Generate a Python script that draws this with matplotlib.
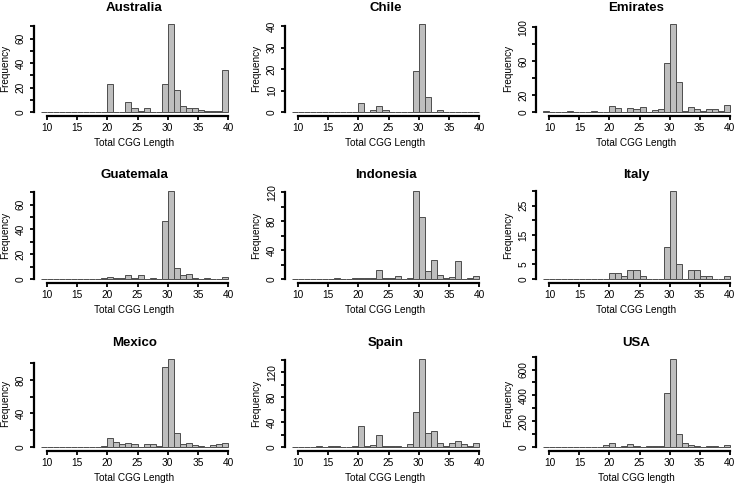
import matplotlib
matplotlib.use("Agg")
import matplotlib.pyplot as plt

plt.rcParams['font.family'] = ['Liberation Sans', 'DejaVu Sans']

# histogram breaks 9..40, one count per unit bin (left edges 9..39)
breaks = list(range(9, 41))

#            9  10 11 12 13 14 15 16 17 18 19  20 21 22 23 24 25 26 27 28  29   30  31 32 33 34 35 36 37 38 39
australia = [0, 0, 0, 0, 0, 0, 0, 0, 0, 0, 0, 23, 0, 0, 8, 3, 1, 3, 0, 0, 23, 72, 18, 5, 3, 3, 2, 1, 1, 1, 34]
chile     = [0, 0, 0, 0, 0, 0, 0, 0, 0, 0, 0, 4, 0, 1, 3, 1, 0, 0, 0, 0, 19, 41, 7, 0, 1, 0, 0, 0, 0, 0, 0]
emirates  = [1, 0, 0, 0, 1, 0, 0, 0, 1, 0, 0, 7, 5, 0, 5, 4, 6, 0, 2, 4, 58, 104, 35, 1, 6, 4, 1, 3, 4, 1, 8]
guatemala = [0, 0, 0, 0, 0, 0, 0, 0, 0, 0, 1, 2, 1, 1, 3, 1, 3, 0, 1, 0, 47, 71, 9, 3, 4, 1, 0, 1, 0, 0, 2]
indonesia = [0, 0, 0, 0, 0, 0, 0, 1, 0, 0, 2, 2, 1, 2, 12, 1, 1, 4, 0, 1, 122, 86, 11, 26, 5, 2, 3, 25, 0, 1, 4]
italy     = [0, 0, 0, 0, 0, 0, 0, 0, 0, 0, 0, 2, 2, 1, 3, 3, 1, 0, 0, 0, 11, 30, 5, 0, 3, 3, 1, 1, 0, 0, 1]
mexico    = [0, 0, 0, 0, 0, 0, 0, 0, 0, 0, 1, 11, 6, 3, 5, 4, 0, 3, 4, 1, 96, 105, 17, 3, 5, 2, 1, 0, 2, 3, 5]
spain     = [0, 0, 0, 0, 2, 0, 1, 1, 0, 0, 1, 34, 2, 3, 19, 2, 2, 1, 0, 4, 56, 141, 23, 25, 7, 1, 7, 10, 5, 2, 7]
usa       = [3, 0, 0, 0, 0, 0, 0, 2, 2, 3, 15, 27, 3, 8, 20, 7, 3, 5, 4, 10, 415, 682, 98, 27, 13, 4, 3, 8, 4, 3, 13]

panels = [
    ("Australia", australia, list(range(0, 71, 10)), [0, 20, 40, 60], "Total CGG Length"),
    ("Chile", chile, [0, 10, 20, 30, 40], [0, 10, 20, 30, 40], "Total CGG Length"),
    ("Emirates", emirates, list(range(0, 101, 20)), [0, 20, 60, 100], "Total CGG Length"),
    ("Guatemala", guatemala, list(range(0, 71, 10)), [0, 20, 40, 60], "Total CGG Length"),
    ("Indonesia", indonesia, list(range(0, 121, 20)), [0, 40, 80, 120], "Total CGG Length"),
    ("Italy", italy, list(range(0, 31, 5)), [0, 5, 15, 25], "Total CGG Length"),
    ("Mexico", mexico, list(range(0, 101, 20)), [0, 40, 80], "Total CGG Length"),
    ("Spain", spain, list(range(0, 141, 20)), [0, 40, 80, 120], "Total CGG Length"),
    ("USA", usa, list(range(0, 701, 100)), [0, 200, 400, 600], "Total CGG length"),
]
xticks = [10, 15, 20, 25, 30, 35, 40]

W, H = 737, 484
fig = plt.figure(figsize=(W / 100, H / 100), dpi=100)

col_left = [33.5, 284.5, 536]
col_w = [202, 202, 201]
row_bottom = [115.5, 282.5, 450.5]
row_h = 95

for i, (name, counts, yt, ylab, xlab) in enumerate(panels):
    r, c = divmod(i, 3)
    ax = fig.add_axes([col_left[c] / W, (H - row_bottom[r]) / H, col_w[c] / W, row_h / H])
    ax.bar(breaks[:-1], counts, width=1, align='edge', color='#bebebe',
           edgecolor='#4d4d4d', linewidth=0.7)
    m = max(counts)
    lo, hi = breaks[0], breaks[-1]
    span = hi - lo
    ax.set_xlim(lo - 0.04 * span, hi + 0.04 * span)
    ax.set_ylim(-0.04 * m, 1.04 * m)

    for s in ['top', 'right']:
        ax.spines[s].set_visible(False)
    ax.spines['left'].set_bounds(yt[0], yt[-1])
    ax.spines['bottom'].set_bounds(xticks[0], xticks[-1])
    for s in ['left', 'bottom']:
        ax.spines[s].set_linewidth(1.6)

    ax.set_xticks(xticks)
    ax.set_xticklabels([str(v) for v in xticks], fontsize=7.3)
    ax.set_yticks(yt)
    ax.set_yticklabels([str(v) if v in ylab else '' for v in yt], fontsize=7.3,
                       rotation=90, va='center')
    ax.tick_params(direction='out', length=3, width=1.3, pad=2.5)

    ax.set_title(name, fontsize=9.5, fontweight='bold', pad=7)
    ax.set_xlabel(xlab, fontsize=7.2, va='center')
    ax.xaxis.set_label_coords(0.5, -27.5 / row_h)
    ax.set_ylabel("Frequency", fontsize=7.2, va='center')
    ax.yaxis.set_label_coords(-28 / col_w[c], 0.5)

fig.savefig("out.png", dpi=100)
